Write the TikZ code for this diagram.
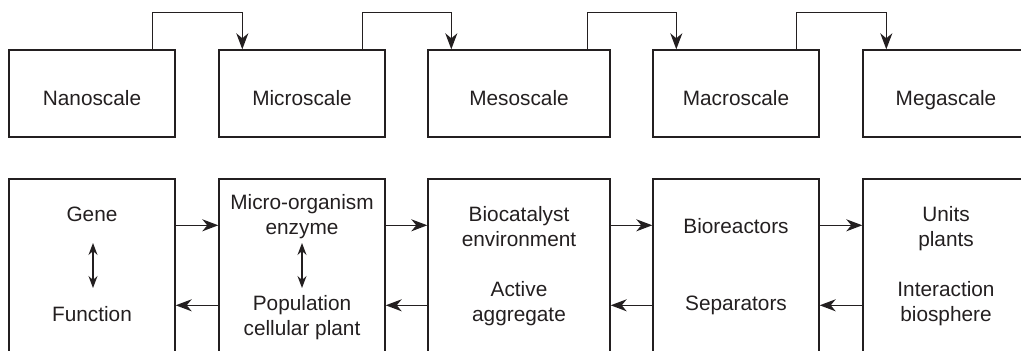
\documentclass[tikz,border=0pt]{standalone}
\usepackage{fontspec}
\setmainfont{Liberation Sans}
\usetikzlibrary{arrows.meta,calc}
\definecolor{ink}{RGB}{35,31,32}
\tikzset{
  box/.style={draw=ink, line width=1.4pt, rectangle, inner sep=0pt, minimum height=#1},
  lbl/.style={anchor=base, inner sep=0pt, text=ink, font=\fontsize{20.8}{25}\selectfont},
  arr/.style={draw=ink, line width=1.4pt, -{Stealth[length=16pt,width=12pt,inset=5pt]}},
  darr/.style={draw=ink, line width=1.3pt, {Stealth[length=12pt,width=9pt,inset=4pt]}-{Stealth[length=12pt,width=9pt,inset=4pt]}},
}
\begin{document}
\begin{tikzpicture}[x=1pt,y=-1pt]
\useasboundingbox (0,0) rectangle (1021,351);
\clip (0,0) rectangle (1021,351);
% top row
\node[box=87, minimum width=166] (t1) at (92,93.5) {};
\node[box=87, minimum width=166] (t2) at (302,93.5) {};
\node[box=87, minimum width=182] (t3) at (519,93.5) {};
\node[box=87, minimum width=166] (t4) at (736,93.5) {};
\node[box=87, minimum width=166] (t5) at (946,93.5) {};
\node[lbl] (lt1) at (92,105) {Nanoscale};
\node[lbl] (lt2) at (302,105) {Microscale};
\node[lbl] (lt3) at (519,105) {Mesoscale};
\node[lbl] (lt4) at (736,105) {Macroscale};
\node[lbl] (lt5) at (946,105) {Megascale};
% top connectors
\foreach \a/\b in {t1/t2,t2/t3,t3/t4,t4/t5}{
  \draw[arr] ($(\a.north east)+(-23,0)$) -- ++(0,-37) -| ($(\b.north west)+(24,0)$);
}
% bottom row
\node[box=200, minimum width=166] (b1) at (92,279) {};
\node[box=200, minimum width=166] (b2) at (302,279) {};
\node[box=200, minimum width=182] (b3) at (519,279) {};
\node[box=200, minimum width=166] (b4) at (736,279) {};
\node[box=200, minimum width=166] (b5) at (946,279) {};
% bottom labels
\node[lbl] (g1) at (92,221.5) {Gene};
\node[lbl] (f1) at (92,321.7) {Function};
\node[lbl] (m1) at (302,209.5) {Micro-organism};
\node[lbl] (m2) at (302,234.5) {enzyme};
\node[lbl] (p1) at (302,310.7) {Population};
\node[lbl] (p2) at (302,335.7) {cellular plant};
\node[lbl] (c1) at (519,221) {Biocatalyst};
\node[lbl] (c2) at (519,246) {environment};
\node[lbl] (a1) at (519,296.7) {Active};
\node[lbl] (a2) at (519,321.7) {aggregate};
\node[lbl] (r1) at (736,233) {Bioreactors};
\node[lbl] (s1) at (736,310) {Separators};
\node[lbl] (u1) at (946,221) {Units};
\node[lbl] (u2) at (946,246) {plants};
\node[lbl] (i1) at (946,296.7) {Interaction};
\node[lbl] (i2) at (946,321.7) {biosphere};
% inner double arrows
\coordinate (d1a) at (93,243); \coordinate (d1b) at (93,288);
\coordinate (d2a) at (302,243); \coordinate (d2b) at (302,288);
\draw[darr] (d1a) -- (d1b);
\draw[darr] (d2a) -- (d2b);
% bottom connectors
\foreach \a/\b in {b1/b2,b2/b3,b3/b4,b4/b5}{
  \draw[arr] ($(\a.north east)+(0,47)$) -- ($(\b.north west)+(0,47)$);
  \draw[arr] ($(\b.north west)+(0,127)$) -- ($(\a.north east)+(0,127)$);
}
\end{tikzpicture}
\end{document}
